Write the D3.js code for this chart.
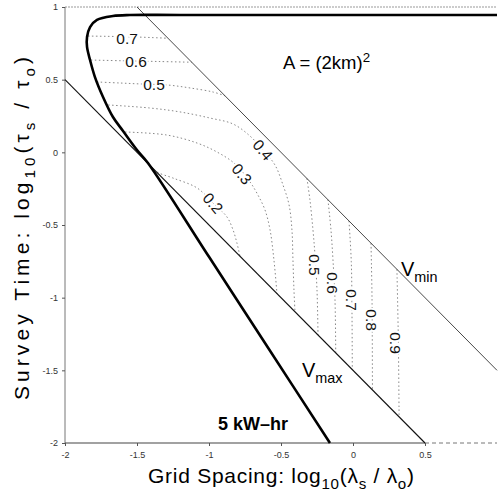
<!DOCTYPE html>
<html><head><meta charset="utf-8">
<script src="https://cdn.jsdelivr.net/npm/d3@7"></script>
<style>body{margin:0;background:#fff}svg{display:block}</style>
</head><body><svg id="c" width="499" height="493"></svg>
<script>
// ---- data ----
const xTicks = [-2, -1.5, -1, -0.5, 0, 0.5];
const yTicks = [1, 0.5, 0, -0.5, -1, -1.5, -2];

const energyCurve = [[1.0,0.945],[-1.2,0.945],[-1.549,0.945],[-1.667,0.938],[-1.778,0.911],[-1.826,0.862],[-1.847,0.794],
  [-1.847,0.725],[-1.826,0.635],[-1.792,0.518],[-1.736,0.381],[-1.667,0.243],[-1.597,0.147],[-1.5,0.016],
  [-1.424,-0.073],[-1.0,-0.719],[-0.6,-1.329],[-0.16,-2]];
const vmaxLine = [[-2,0.5],[0.5,-2]];
const vminLine = [[-1.5,1],[1,-1.5]];

const c07a = [[-1.84,0.80],[-1.55,0.795],[-1.285,0.785]];
const c06a = [[-1.82,0.635],[-1.6,0.63],[-1.35,0.625],[-1.12,0.62]];
const c05a = [[-1.778,0.484],[-1.618,0.477],[-1.465,0.47],[-1.285,0.463],[-1.132,0.443],[-0.972,0.415],[-0.889,0.389]];
const c04 = [[-1.70,0.326],[-1.41,0.305],[-1.201,0.278],[-0.993,0.236],[-0.833,0.195],[-0.715,0.112],[-0.625,0.016],
  [-0.542,-0.087],[-0.486,-0.225],[-0.444,-0.362],[-0.424,-0.534],[-0.417,-0.741],[-0.41,-0.947],[-0.403,-1.097]];
const c03 = [[-1.583,0.14],[-1.292,0.119],[-1.083,0.064],[-0.944,0.002],[-0.819,-0.08],[-0.715,-0.204],[-0.66,-0.294],
  [-0.611,-0.397],[-0.576,-0.534],[-0.549,-0.741],[-0.528,-0.972]];
const c02 = [[-1.42,-0.08],[-1.361,-0.135],[-1.25,-0.177],[-1.083,-0.245],[-0.972,-0.349],[-0.875,-0.445],
  [-0.833,-0.534],[-0.806,-0.624],[-0.785,-0.715]];
const c05b = [[-0.32,-0.18],[-0.299,-0.328],[-0.278,-0.534],[-0.264,-0.706],[-0.25,-0.947],[-0.243,-1.257]];
const c06b = [[-0.174,-0.326],[-0.153,-0.534],[-0.139,-0.741],[-0.125,-1.016],[-0.12,-1.38]];
const c07b = [[-0.028,-0.472],[-0.012,-0.75],[-0.007,-1.1],[-0.005,-1.495]];
const c08b = [[0.125,-0.625],[0.132,-1.0],[0.135,-1.635]];
const c09b = [[0.305,-0.805],[0.315,-1.3],[0.32,-1.82]];
const contours = [c07a, c06a, c05a, c04, c03, c02, c05b, c06b, c07b, c08b, c09b];

const labelText = ["0.7","0.6","0.5","0.4","0.3","0.2","0.5","0.6","0.7","0.8","0.9"];
const labelX = [-1.569,-1.507,-1.382,-0.625,-0.771,-0.972,-0.264,-0.139,-0.007,0.132,0.299];
const labelY = [0.787,0.628,0.470,0.016,-0.149,-0.349,-0.775,-0.899,-1.016,-1.154,-1.312];
const labelAngle = [0,0,0,50,50,50,90,90,90,90,90];

// ---- drawing ----
const svg = d3.select("#c");
const FONT = "'Liberation Sans', Arial, Helvetica, sans-serif";
const x = d3.scaleLinear().domain([-2, 1]).range([65, 497]);
const y = d3.scaleLinear().domain([-2, 1]).range([443, 7]);

// axes frame
svg.append("line").attr("x1", x(-2)).attr("x2", x(1)).attr("y1", y(1)).attr("y2", y(1))
  .attr("stroke", "#999").attr("stroke-width", 1).attr("stroke-dasharray", "2,1");
svg.append("line").attr("x1", x(-2)).attr("x2", x(-2)).attr("y1", y(1)).attr("y2", y(-2))
  .attr("stroke", "#777").attr("stroke-width", 1);
svg.append("line").attr("x1", x(-2)).attr("x2", x(0.5)).attr("y1", y(-2)).attr("y2", y(-2))
  .attr("stroke", "#444").attr("stroke-width", 1.2);
svg.append("line").attr("x1", x(0.5)).attr("x2", x(1)).attr("y1", y(-2)).attr("y2", y(-2))
  .attr("stroke", "#777").attr("stroke-width", 1).attr("stroke-dasharray", "4,3");

const fmt = d => String(d);
const xAxis = d3.axisBottom(x).tickValues(xTicks).tickSize(3).tickFormat(fmt);
const gx = svg.append("g").attr("transform", `translate(0,${y(-2)})`).call(xAxis);
gx.select(".domain").remove();
gx.selectAll("line").attr("stroke", "#555");
gx.selectAll("text").attr("font-family", FONT).attr("font-size", 9).attr("fill", "#333").attr("dy", "0.95em");

const yAxis = d3.axisLeft(y).tickValues(yTicks).tickSize(3).tickFormat(fmt);
const gy = svg.append("g").attr("transform", `translate(${x(-2)},0)`).call(yAxis);
gy.select(".domain").remove();
gy.selectAll("line").attr("stroke", "#555");
gy.selectAll("text").attr("font-family", FONT).attr("font-size", 9).attr("fill", "#333").attr("x", -7);

// contours
const cline = d3.line().x(d => x(d[0])).y(d => y(d[1])).curve(d3.curveCatmullRom.alpha(0.5));
svg.append("g").selectAll("path").data(contours).join("path")
  .attr("d", cline).attr("fill", "none").attr("stroke", "#888").attr("stroke-width", 1)
  .attr("stroke-dasharray", "1.5,2.5");

// Vmin, Vmax
const sline = d3.line().x(d => x(d[0])).y(d => y(d[1]));
svg.append("path").attr("d", sline(vminLine)).attr("fill", "none").attr("stroke", "#333").attr("stroke-width", 0.9);
svg.append("path").attr("d", sline(vmaxLine)).attr("fill", "none").attr("stroke", "#111").attr("stroke-width", 1.1);

// energy curve
svg.append("path").attr("d", cline(energyCurve)).attr("fill", "none").attr("stroke", "#000").attr("stroke-width", 2.6);

// contour labels
svg.append("g").selectAll("text").data(labelText).join("text")
  .attr("transform", (d, i) => `translate(${x(labelX[i])},${y(labelY[i])}) rotate(${labelAngle[i]})`)
  .attr("text-anchor", "middle").attr("dy", "0.36em")
  .attr("font-family", FONT).attr("font-size", 15.5).attr("fill", "#111")
  .attr("stroke", "#fff").attr("stroke-width", 4).attr("paint-order", "stroke")
  .text(d => d);

// rich text helper
function rich(g, parts, size) {
  const t = g.append("text").attr("font-family", FONT).attr("font-size", size).attr("fill", "#000");
  let shifted = 0;
  parts.forEach(p => {
    const s = t.append("tspan").text(p[0]);
    const want = p[1] === "sub" ? size * 0.28 : p[1] === "sup" ? -size * 0.4 : 0;
    if (want !== shifted) { s.attr("dy", want - shifted); shifted = want; }
    if (p[1]) s.attr("font-size", size * 0.72);
  });
  return t;
}

// axis titles
const xt = svg.append("g").attr("transform", "translate(148,483)");
rich(xt, [["Grid Spacing:  log"],["10","sub"],["(λ"],["s","sub"],[" / λ"],["o","sub"],[")"]], 21)
  .attr("textLength", 266).attr("lengthAdjust", "spacing");
const yt = svg.append("g").attr("transform", "translate(29,400) rotate(-90)");
rich(yt, [["Survey Time:  log"],["10","sub"],["(τ"],["s","sub"],[" / τ"],["o","sub"],[")"]], 21)
  .attr("textLength", 343).attr("lengthAdjust", "spacing");

// annotations
const at = svg.append("g").attr("transform", "translate(283,69)");
rich(at, [["A = (2km)"],["2","sup"]], 18.5);
const vmin = svg.append("g").attr("transform", "translate(401,276)");
rich(vmin, [["V"],["min","sub"]], 20);
const vmax = svg.append("g").attr("transform", "translate(302,377)");
rich(vmax, [["V"],["max","sub"]], 20);
svg.append("text").attr("x", 218).attr("y", 430).attr("font-family", FONT).attr("font-size", 18)
  .attr("font-weight", "bold").text("5 kW\u2013hr");
</script></body></html>
